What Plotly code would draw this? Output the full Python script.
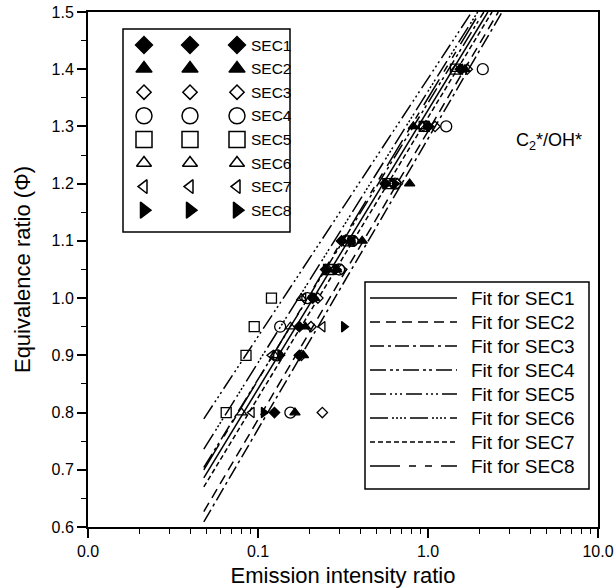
import plotly.graph_objects as go

# ---------------- data ----------------
phi = [0.8, 0.9, 0.95, 1.0, 1.05, 1.1, 1.2, 1.3, 1.4]

sec_names = ["SEC1", "SEC2", "SEC3", "SEC4", "SEC5", "SEC6", "SEC7", "SEC8"]

sec1_x = [0.125, 0.175, 0.175, 0.210, 0.250, 0.310, 0.560, 1.000, 1.55]
sec2_x = [0.165, 0.185, 0.190, 0.215, 0.290, 0.410, 0.780, 0.820, 1.65]
sec3_x = [0.239, 0.180, 0.205, 0.225, 0.310, 0.370, 0.660, 1.100, 1.70]
sec4_x = [0.155, 0.130, 0.135, 0.195, 0.300, 0.360, 0.640, 1.280, 2.10]
sec5_x = [0.065, 0.085, 0.095, 0.120, 0.260, 0.340, 0.580, 0.950, 1.45]
sec6_x = [0.080, 0.125, 0.155, 0.180, 0.260, 0.350, 0.600, 0.930, 1.45]
sec7_x = [0.092, 0.120, 0.240, 0.185, 0.280, 0.360, 0.620, 0.920, 1.55]
sec8_x = [0.108, 0.135, 0.320, 0.210, 0.290, 0.350, 0.640, 1.020, 1.60]

# fitted lines: start point (x, phi) and the point where each leaves the top of the plot
fit_x_start = 0.048
fit_phi_start = [0.686, 0.627, 0.609, 0.704, 0.789, 0.736, 0.670, 0.700]
fit_x_top = [2.25, 2.59, 2.73, 2.13, 1.81, 1.96, 2.38, 2.02]
fit_phi_top = 1.5

x_tick_vals = [0.01, 0.1, 1, 10]
x_tick_text = ["0.0", "0.1", "1.0", "10.0"]

# ---------------- styles ----------------
series_x = [sec1_x, sec2_x, sec3_x, sec4_x, sec5_x, sec6_x, sec7_x, sec8_x]
symbols = ["diamond", "triangle-up", "diamond-open", "circle-open",
           "square-open", "triangle-up-open", "triangle-left-open", "triangle-right"]
plot_sizes = [8, 9, 8, 11, 10, 9, 9, 9]
leg_sizes = [13, 14, 11, 16, 16, 13, 12, 14]
dashes = ["solid", "10px,6px", "14px,4px,3px,4px", "16px,4px,3px,3px,3px,4px",
          "16px,4px,2px,3px,2px,3px,2px,4px",
          "18px,4px,2px,2px,2px,2px,2px,2px,2px,4px",
          "5px,3px", "30px,9px,7px,9px,7px,9px"]

FONT = "Liberation Sans, Arial, sans-serif"
L, R, T, B = 88, 17, 12, 61
W, H = 615, 588

fig = go.Figure()

# fit lines
for i, name in enumerate(sec_names):
    fig.add_trace(go.Scatter(
        x=[fit_x_start, fit_x_top[i]], y=[fit_phi_start[i], fit_phi_top],
        mode="lines", line=dict(color="black", width=1.5, dash=dashes[i]),
        showlegend=False, hoverinfo="skip"))

# data markers
for i, name in enumerate(sec_names):
    fig.add_trace(go.Scatter(
        x=series_x[i], y=phi, mode="markers", name=name,
        marker=dict(symbol=symbols[i], size=plot_sizes[i], color="black",
                    line=dict(color="black", width=1.3)),
        showlegend=False))

# ---------------- hand-made legends on a pixel-like overlay axis ----------------
ax2 = dict(visible=False, fixedrange=True)
shapes = []
annotations = []

# legend 1 (markers)
shapes.append(dict(type="rect", xref="x2", yref="y2", x0=123, x1=290, y0=29, y1=232,
                   line=dict(color="black", width=1.5), fillcolor="white", layer="below"))
for i, name in enumerate(sec_names):
    yy = 45 + i * 23.6
    fig.add_trace(go.Scatter(
        x=[144, 190, 237], y=[yy] * 3, xaxis="x2", yaxis="y2", mode="markers",
        marker=dict(symbol=symbols[i], size=leg_sizes[i], color="black",
                    line=dict(color="black", width=1.5)),
        showlegend=False, hoverinfo="skip"))
    annotations.append(dict(xref="x2", yref="y2", x=249, y=yy, text=name, showarrow=False,
                            xanchor="left", yanchor="middle",
                            font=dict(family=FONT, size=15.5, color="black")))

# legend 2 (lines)
shapes.append(dict(type="rect", xref="x2", yref="y2", x0=365, x1=589, y0=282, y1=489,
                   line=dict(color="black", width=1.5), fillcolor="white", layer="below"))
for i, name in enumerate(sec_names):
    yy = 298 + i * 24
    fig.add_trace(go.Scatter(
        x=[370, 457], y=[yy, yy], xaxis="x2", yaxis="y2", mode="lines",
        line=dict(color="black", width=1.5, dash=dashes[i]),
        showlegend=False, hoverinfo="skip"))
    annotations.append(dict(xref="x2", yref="y2", x=469, y=yy, text="Fit for " + name,
                            showarrow=False, xanchor="left", yanchor="middle",
                            font=dict(family=FONT, size=19, color="black")))

annotations.append(dict(xref="x2", yref="y2", x=549, y=141,
                        text="C<sub>2</sub>*/OH*", showarrow=False,
                        xanchor="center", yanchor="middle",
                        font=dict(family=FONT, size=18, color="black")))

minor_x = [m * 10 ** k for k in (-2, -1, 0) for m in range(2, 10)]

fig.update_layout(
    width=W, height=H,
    margin=dict(l=L, r=R, t=T, b=B, pad=0, autoexpand=False),
    paper_bgcolor="white", plot_bgcolor="white",
    font=dict(family=FONT, color="black"),
    showlegend=False,
    shapes=shapes, annotations=annotations,
    xaxis=dict(type="log", range=[-2, 1], tickmode="array", automargin=False,
               tickvals=x_tick_vals, ticktext=x_tick_text,
               ticks="outside", ticklen=9, tickwidth=1.5, tickcolor="black",
               minor=dict(tickmode="array", tickvals=minor_x, ticks="outside",
                          ticklen=5, tickwidth=1.3, tickcolor="black", showgrid=False),
               showline=True, linewidth=2, linecolor="black", mirror=True,
               showgrid=False, zeroline=False,
               tickfont=dict(family=FONT, size=16, color="black"),
               title=dict(text="Emission intensity ratio", standoff=8,
                          font=dict(family=FONT, size=22, color="black"))),
    yaxis=dict(range=[0.6, 1.5], tickmode="linear", tick0=0.6, dtick=0.1,
               tickformat=".1f", automargin=False,
               ticks="outside", ticklen=9, tickwidth=1.5, tickcolor="black",
               minor=dict(dtick=0.05, ticks="outside", ticklen=5, tickwidth=1.3,
                          tickcolor="black", showgrid=False),
               showline=True, linewidth=2, linecolor="black", mirror=True,
               showgrid=False, zeroline=False,
               tickfont=dict(family=FONT, size=16, color="black"),
               title=dict(text="Equivalence ratio (\u03a6)", standoff=15,
                          font=dict(family=FONT, size=22, color="black"))),
    xaxis2=dict(overlaying="x", range=[L, W - R], **ax2),
    yaxis2=dict(overlaying="y", range=[H - B, T], **ax2),
)

fig.write_html("out.html")
